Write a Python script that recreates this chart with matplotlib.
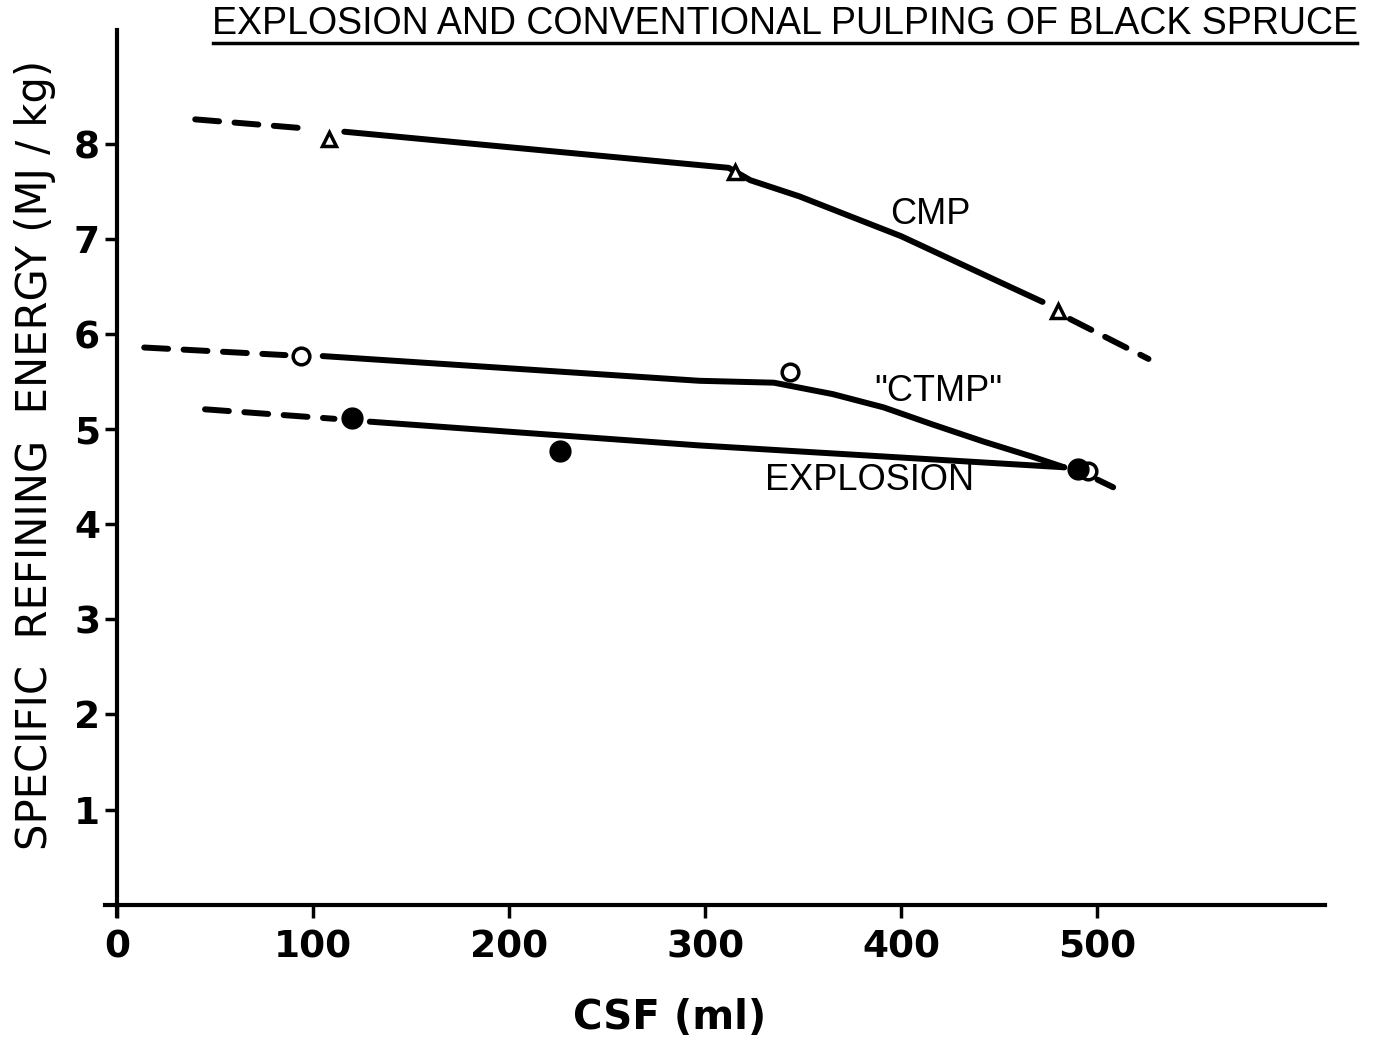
import matplotlib
matplotlib.use('Agg')
import matplotlib.pyplot as plt
from matplotlib.lines import Line2D

# measured points (CSF ml, MJ/kg)
cmp_x = [108, 315, 480]
cmp_y = [8.05, 7.71, 6.24]
ctmp_x = [94, 343, 495]
ctmp_y = [5.77, 5.60, 4.56]
expl_x = [120, 226, 490]
expl_y = [5.12, 4.77, 4.58]

# hand drawn curves through the points
cmp_fit_x = [116, 312, 323, 348, 374, 400, 425, 450, 472]
cmp_fit_y = [8.13, 7.75, 7.62, 7.45, 7.24, 7.03, 6.79, 6.55, 6.34]
cmp_left_x = [40, 99]
cmp_left_y = [8.26, 8.16]
cmp_right_x = [486, 526]
cmp_right_y = [6.16, 5.74]

ctmp_fit_x = [105, 297, 335, 365, 391, 416, 442, 467, 483]
ctmp_fit_y = [5.77, 5.51, 5.49, 5.37, 5.23, 5.05, 4.87, 4.71, 4.60]
ctmp_left_x = [14, 86]
ctmp_left_y = [5.86, 5.78]
ctmp_right_x = [500, 508]
ctmp_right_y = [4.47, 4.39]

expl_fit_x = [129, 297, 483]
expl_fit_y = [5.08, 4.83, 4.60]
expl_left_x = [45, 111]
expl_left_y = [5.21, 5.11]

x_ticks = [0, 100, 200, 300, 400, 500]
y_ticks = [1, 2, 3, 4, 5, 6, 7, 8]

W, H = 1375, 1039
fig = plt.figure(figsize=(W / 100, H / 100), dpi=100)
ax = fig.add_axes([105 / W, (H - 916) / H, 1220 / W, 886 / H])
ax.set_xlim(-6, 616)
ax.set_ylim(-0.12, 9.2)

lw = 4.3
solid = dict(color='black', lw=lw, solid_capstyle='round', solid_joinstyle='round')
dashed = dict(color='black', lw=lw, dashes=(4, 2.6), dash_capstyle='round')

ax.plot(cmp_fit_x, cmp_fit_y, **solid)
ax.plot(cmp_left_x, cmp_left_y, **dashed)
ax.plot(cmp_right_x, cmp_right_y, **dashed)
ax.plot(ctmp_fit_x, ctmp_fit_y, **solid)
ax.plot(ctmp_left_x, ctmp_left_y, **dashed)
ax.plot(ctmp_right_x, ctmp_right_y, **dashed)
ax.plot(expl_fit_x, expl_fit_y, **solid)
ax.plot(expl_left_x, expl_left_y, **dashed)

ax.plot(cmp_x, cmp_y, '^', ms=10, mfc='white', mec='black', mew=2.5, ls='none')
ax.plot(ctmp_x, ctmp_y, 'o', ms=12, mfc='white', mec='black', mew=2.5, ls='none')
ax.plot(expl_x, expl_y, 'o', ms=15, color='black', ls='none')

lab_font = ['Liberation Sans', 'DejaVu Sans']
ax.text(415, 7.26, 'CMP', fontsize=26, family=lab_font, ha='center', va='center')
ax.text(419, 5.40, '"CTMP"', fontsize=26, family=lab_font, ha='center', va='center')
ax.text(384, 4.46, 'EXPLOSION', fontsize=26, family=lab_font, ha='center', va='center')

# axes look
for s in ['top', 'right']:
    ax.spines[s].set_visible(False)
ax.spines['left'].set_position(('data', 0))
ax.spines['bottom'].set_position(('data', 0))
ax.spines['left'].set_linewidth(3)
ax.spines['bottom'].set_linewidth(3)
ax.set_xticks(x_ticks)
ax.set_xticklabels([str(v) for v in x_ticks])
ax.set_yticks(y_ticks)
ax.set_yticklabels([str(v) for v in y_ticks])
ax.tick_params(axis='both', direction='out', length=9, width=2.5, labelsize=27)
ax.tick_params(axis='x', pad=9)
ax.tick_params(axis='y', pad=3)
for t in ax.get_xticklabels() + ax.get_yticklabels():
    t.set_fontweight('bold')

ax.set_xlabel('CSF (ml)', fontsize=29, fontweight='bold')
ax.xaxis.set_label_coords(0.463, -0.092)
ax.set_ylabel('SPECIFIC  REFINING  ENERGY (MJ / kg)', fontsize=30)
ax.yaxis.set_label_coords(-0.040, 0.52)

fig.text(785 / W, 1 - 24 / H, 'EXPLOSION AND CONVENTIONAL PULPING OF BLACK SPRUCE',
         fontsize=27, family=lab_font, ha='center', va='center')
fig.add_artist(Line2D([213 / W, 1357 / W], [1 - 43 / H, 1 - 43 / H], color='black', lw=2.5))

fig.savefig('out.png', dpi=100)
